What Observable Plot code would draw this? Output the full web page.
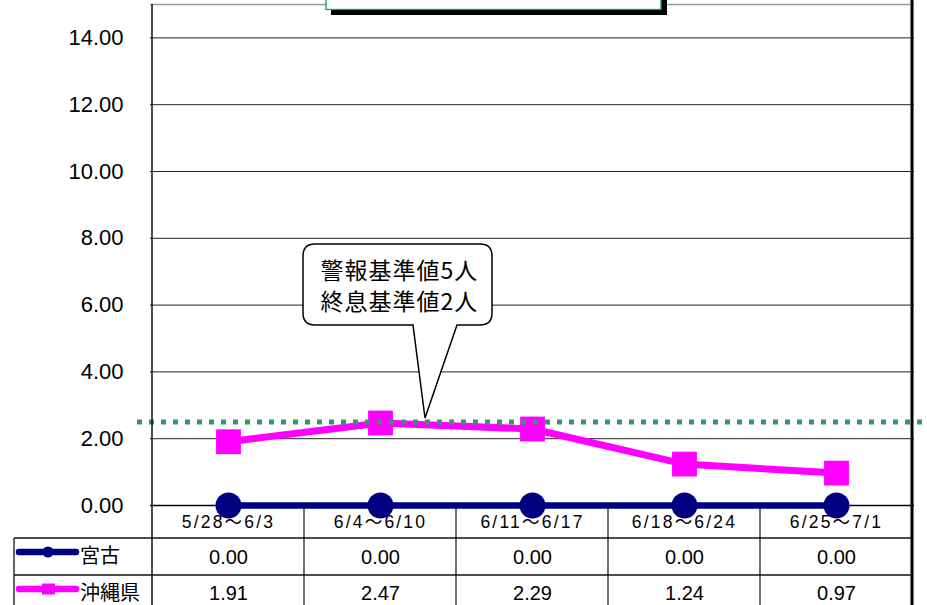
<!DOCTYPE html>
<html><head><meta charset="utf-8">
<script src="https://cdn.jsdelivr.net/npm/d3@7"></script>
<script src="https://cdn.jsdelivr.net/npm/@observablehq/plot@0.6"></script>
<style>html,body{margin:0;padding:0;background:#fff;overflow:hidden} svg{display:block}</style>
</head><body><div id="chart"></div>
<script>
const categories = ["5/28〜6/3", "6/4〜6/10", "6/11〜6/17", "6/18〜6/24", "6/25〜7/1"];
const miyako = [0.00, 0.00, 0.00, 0.00, 0.00];
const okinawa = [1.91, 2.47, 2.29, 1.24, 0.97];
const seriesNames = ["宮古", "沖縄県"];
const seriesColors = ["#000080", "#ff00ff"];
const yTicks = [0, 2, 4, 6, 8, 10, 12, 14];
const referenceLevel = [2.5];
const calloutLines = ["警報基準値5人", "終息基準値2人"];

const rowsMiyako = categories.map((c, i) => ({week: c, value: miyako[i]}));
const rowsOkinawa = categories.map((c, i) => ({week: c, value: okinawa[i]}));

const LATIN = "'Liberation Sans', Arial, 'Noto Sans CJK JP', sans-serif";
const CJK = "'Noto Sans CJK JP', 'Liberation Sans', sans-serif";

const chart = Plot.plot({
  width: 927, height: 605,
  marginTop: 4, marginBottom: 100, marginLeft: 150, marginRight: 13,
  style: {fontFamily: LATIN, background: "#fff", overflow: "visible", color: "#000"},
  x: {type: "band", domain: categories, padding: 0},
  y: {domain: [0, 15]},
  marks: [
    Plot.gridY(yTicks.slice(1), {stroke: "#222", strokeOpacity: 1, strokeWidth: 1}),
    Plot.ruleY([15], {stroke: "#9a9a9a", strokeWidth: 1.5}),
    Plot.ruleY([0], {stroke: "#000", strokeWidth: 1.5}),
    Plot.axisY(yTicks, {tickSize: 0, tickPadding: 27, tickFormat: d => d.toFixed(2), fontSize: 22, label: null}),
    Plot.axisX({tickSize: 0, tickPadding: 10, fontSize: 17.5, label: null}),
    Plot.line(rowsOkinawa, {x: "week", y: "value", stroke: seriesColors[1], strokeWidth: 7}),
    Plot.dot(rowsOkinawa, {x: "week", y: "value", symbol: "square", r: 14, fill: seriesColors[1], stroke: null}),
    Plot.line(rowsMiyako, {x: "week", y: "value", stroke: seriesColors[0], strokeWidth: 6.5}),
    Plot.dot(rowsMiyako, {x: "week", y: "value", r: 13, fill: seriesColors[0], stroke: null}),
    Plot.ruleY(referenceLevel, {stroke: "#339966", strokeWidth: 5, strokeDasharray: "5,7", insetLeft: -13, insetRight: -13}),
    Plot.text(rowsMiyako, {x: "week", text: d => d.value.toFixed(2), frameAnchor: "bottom", lineAnchor: "middle", dy: 52, fontSize: 20}),
    Plot.text(rowsOkinawa, {x: "week", text: d => d.value.toFixed(2), frameAnchor: "bottom", lineAnchor: "middle", dy: 88, fontSize: 20})
  ]
});
document.getElementById("chart").appendChild(chart);

const svg = d3.select(chart);
svg.selectAll('g[aria-label="x-axis tick label"] text').attr("letter-spacing", 2.2);

const xs = chart.scale("x");
const ys = chart.scale("y");
const bw = xs.bandwidth;
const edges = categories.map(c => xs.apply(c));
const right = edges[edges.length - 1] + bw;
const y0 = ys.apply(0);
const yTop = ys.apply(15);
const H = 605;
const tableLeft = 14;
const headerBottom = y0 + 33;
const row1Bottom = y0 + 70;

const g = svg.append("g").attr("class", "table");
[headerBottom, row1Bottom].forEach(yy => {
  g.append("line").attr("x1", tableLeft).attr("x2", right).attr("y1", yy).attr("y2", yy)
    .attr("stroke", "#111").attr("stroke-width", 1.3);
});
g.append("line").attr("x1", tableLeft).attr("x2", tableLeft).attr("y1", headerBottom).attr("y2", H)
  .attr("stroke", "#111").attr("stroke-width", 1.3);
edges.forEach((e, i) => {
  g.append("line").attr("x1", e).attr("x2", e).attr("y1", i === 0 ? yTop : y0).attr("y2", H)
    .attr("stroke", "#111").attr("stroke-width", i === 0 ? 1.5 : 1.2);
});

// legend column
seriesNames.forEach((name, i) => {
  const cy = y0 + 51 + i * 37;
  const ly = cy - 4;
  g.append("line").attr("x1", 19).attr("x2", 76).attr("y1", ly).attr("y2", ly)
    .attr("stroke", seriesColors[i]).attr("stroke-width", 6.5).attr("stroke-linecap", "round");
  if (i === 0) {
    g.append("circle").attr("cx", 48).attr("cy", ly).attr("r", 5.5).attr("fill", seriesColors[i]);
  } else {
    g.append("rect").attr("x", 42).attr("y", ly - 5.5).attr("width", 13).attr("height", 11).attr("fill", seriesColors[i]);
  }
  g.append("text").attr("x", 80).attr("y", cy).attr("dy", "0.35em").attr("text-anchor", "start")
    .attr("font-family", CJK).attr("font-size", 20).attr("fill", "#000").text(name);
});

// callout
const bx0 = 303, bx1 = 492, by0 = 244, by1 = 325, rr = 12;
const tipX = 425, tipY = 418, p0 = 413, p1 = 457;
const path = `M${bx0 + rr},${by0} H${bx1 - rr} Q${bx1},${by0} ${bx1},${by0 + rr} V${by1 - rr} Q${bx1},${by1} ${bx1 - rr},${by1} H${p1} L${tipX},${tipY} L${p0},${by1} H${bx0 + rr} Q${bx0},${by1} ${bx0},${by1 - rr} V${by0 + rr} Q${bx0},${by0} ${bx0 + rr},${by0} Z`;
svg.append("path").attr("d", path).attr("fill", "#fff").attr("stroke", "#000").attr("stroke-width", 1.5);
calloutLines.forEach((t, i) => {
  svg.append("text").attr("x", (bx0 + bx1) / 2 + 2).attr("y", 271 + i * 31).attr("dy", "0.35em")
    .attr("text-anchor", "middle").attr("font-family", CJK).attr("font-size", 23)
    .attr("letter-spacing", 1).attr("fill", "#000").text(t);
});

// title box (cut off at the top)
svg.append("rect").attr("x", 331).attr("y", -10).attr("width", 336).attr("height", 25).attr("fill", "#000");
svg.append("rect").attr("x", 326).attr("y", -10).attr("width", 335).attr("height", 19.5)
  .attr("fill", "#fff").attr("stroke", "#00a651").attr("stroke-width", 1.3);

// right thick border
svg.append("line").attr("x1", right).attr("x2", right).attr("y1", 0).attr("y2", H)
  .attr("stroke", "#000").attr("stroke-width", 3);
</script>
</body></html>
